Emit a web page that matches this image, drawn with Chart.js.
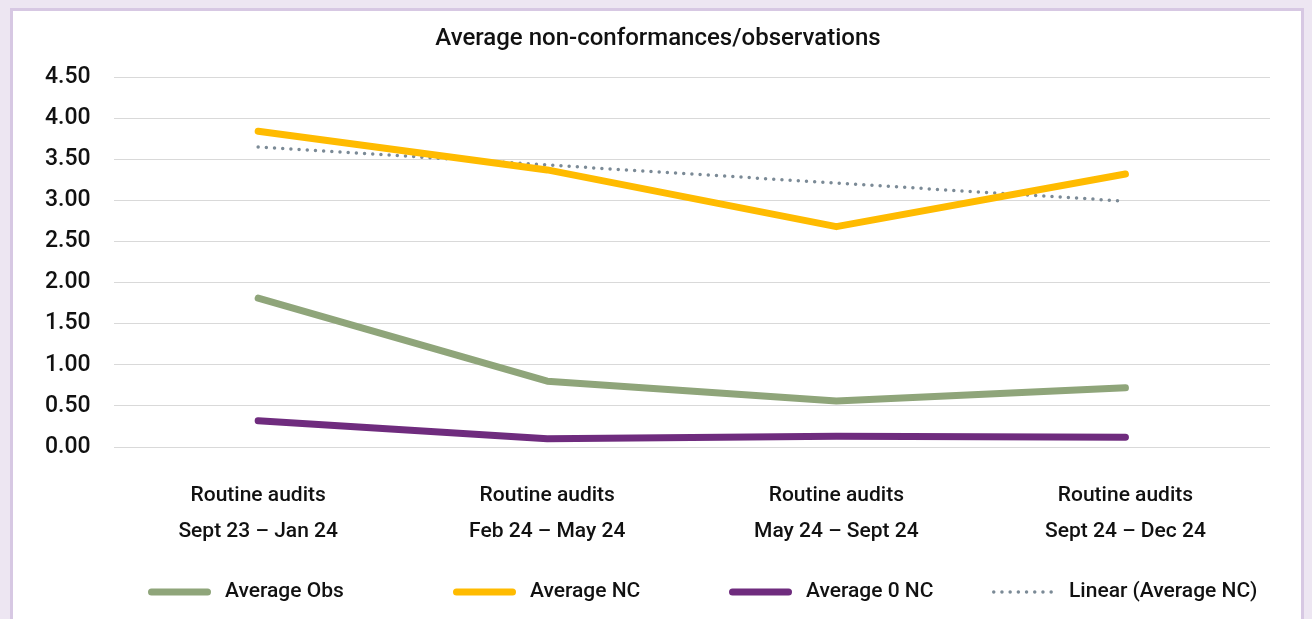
<!DOCTYPE html>
<html>
<head>
<meta charset="utf-8">
<script src="https://cdn.jsdelivr.net/npm/chart.js@4"></script>
<style>
  html, body { margin: 0; padding: 0; background: #ede6f2; }
  .card {
    position: absolute; left: 10px; top: 8px; width: 1294px; height: 620px;
    background: #ffffff; border: 3px solid #d7c8e3; box-sizing: border-box;
  }
  .wrap { position: absolute; left: 0; top: 0; width: 1312px; height: 619px; }
</style>
</head>
<body>
<div class="card"></div>
<div class="wrap"><canvas id="auditChart"></canvas></div>
<script>
const periods = [
  ["Routine audits", "Sept 23 \u2013 Jan 24"],
  ["Routine audits", "Feb 24 \u2013 May 24"],
  ["Routine audits", "May 24 \u2013 Sept 24"],
  ["Routine audits", "Sept 24 \u2013 Dec 24"],
];
const avgObs = [1.81, 0.80, 0.56, 0.72];
const avgNC = [3.84, 3.37, 2.68, 3.32];
const avgZeroNC = [0.32, 0.10, 0.13, 0.12];
const linearNC = [3.65, 3.43, 3.21, 2.99];

const chartTitle = "Average non-conformances/observations";
const fontFamily = "Roboto, 'DejaVu Sans', sans-serif";
const textColor = "#111111";

const lineSet = (label, data, color) => ({
  label,
  data,
  borderColor: color,
  backgroundColor: color,
  borderWidth: 7,
  borderCapStyle: "round",
  borderJoinStyle: "round",
  pointRadius: 0,
  tension: 0,
});

// title + legend drawn by hand so they sit where the original (Excel-style) layout has them
const legendSlots = [148, 453, 729, 992];
const frameText = {
  id: "frameText",
  afterDraw(chart) {
    const c = chart.ctx;
    c.save();
    c.fillStyle = textColor;
    c.font = "500 24px " + fontFamily;
    c.textAlign = "center";
    c.textBaseline = "middle";
    c.fillText(chartTitle, 658, 39);
    c.restore();

    const y = 592;
    chart.data.datasets.forEach((ds, i) => {
      const x = legendSlots[i];
      const w = ds.borderWidth;
      c.save();
      c.strokeStyle = ds.borderColor;
      c.lineWidth = w;
      c.lineCap = "round";
      c.setLineDash(ds.borderDash || []);
      c.beginPath();
      c.moveTo(x + w / 2, y);
      c.lineTo(x + 63 - w / 2, y);
      c.stroke();
      c.restore();
      c.save();
      c.fillStyle = textColor;
      c.font = "500 21px " + fontFamily;
      c.textBaseline = "middle";
      c.fillText(ds.label, x + 77, y);
      c.restore();
    });
  },
};

const ctx = document.getElementById("auditChart").getContext("2d");
const auditChart = new Chart(ctx, {
  type: "line",
  data: {
    labels: periods,
    datasets: [
      lineSet("Average Obs", avgObs, "#8fa57a"),
      lineSet("Average NC", avgNC, "#ffbb00"),
      lineSet("Average 0 NC", avgZeroNC, "#6f2c7e"),
      {
        label: "Linear (Average NC)",
        data: linearNC,
        borderColor: "#7b8a96",
        backgroundColor: "#7b8a96",
        borderWidth: 3.5,
        borderDash: [0, 8.2],
        borderCapStyle: "round",
        pointRadius: 0,
        order: 5,
      },
    ],
  },
  options: {
    responsive: true,
    maintainAspectRatio: false,
    animation: false,
    layout: { padding: { left: 22, right: 42, top: 77, bottom: 38 } },
    plugins: {
      title: { display: false },
      legend: { display: false },
      tooltip: { enabled: false },
    },
    scales: {
      x: {
        offset: true,
        grid: { display: false, drawTicks: false },
        border: { display: false },
        ticks: {
          padding: 31,
          color: textColor,
          font: { family: fontFamily, size: 21, weight: "500", lineHeight: 1.714 },
          maxRotation: 0,
        },
      },
      y: {
        min: 0,
        max: 4.5,
        grid: { color: "#d9d9d9", lineWidth: 1, drawTicks: false },
        border: { display: false },
        ticks: {
          stepSize: 0.5,
          padding: 23,
          color: textColor,
          font: { family: fontFamily, size: 23, weight: "500" },
          callback: (v) => v.toFixed(2),
        },
      },
    },
  },
  plugins: [frameText],
});
</script>
</body>
</html>
